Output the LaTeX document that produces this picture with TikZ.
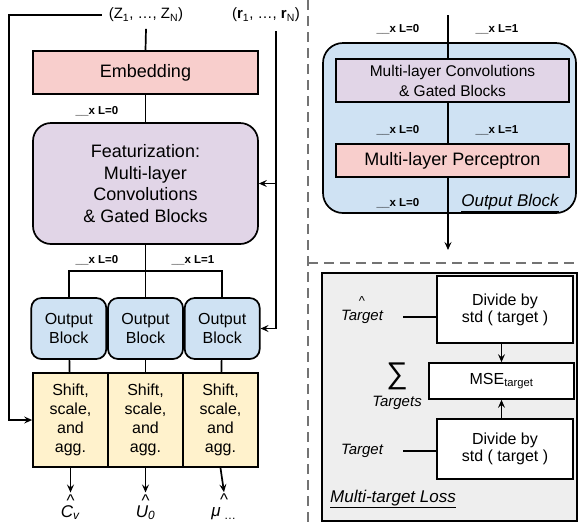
\documentclass[tikz,border=0pt]{standalone}
\usepackage{fontspec}
\setmainfont{Liberation Sans}
\usetikzlibrary{positioning, arrows.meta}
\definecolor{embpink}{RGB}{248,206,204}
\definecolor{featpurple}{RGB}{225,213,231}
\definecolor{outblue}{RGB}{207,226,243}
\definecolor{shiftyellow}{RGB}{255,242,204}
\definecolor{lossgray}{RGB}{238,238,238}
\definecolor{sepgray}{RGB}{115,115,115}
\tikzset{
>={Stealth[length=8pt, width=7pt, inset=3pt]}, % thin open heads as in the figure
box/.style={draw, align=center, inner sep=2pt}, % every framed block
embed/.style={box, fill=embpink},
feat/.style={box, fill=featpurple, rounded corners=18pt},
outb/.style={box, fill=outblue, rounded corners=10pt, minimum width=75pt, minimum height=61pt, font=\fontsize{16}{18.5}\selectfont},
agg/.style={box, fill=shiftyellow, minimum width=75pt, minimum height=94pt, font=\fontsize{16}{19}\selectfont},
lossbox/.style={box, fill=white, font=\fontsize{16}{17}\selectfont},
xlabel/.style={font=\bfseries\fontsize{11.5}{13}\selectfont},
io/.style={font=\fontsize{15}{17}\selectfont, inner sep=6pt},
outsym/.style={align=center, inner sep=1pt, font=\fontsize{17}{19}\selectfont},
tlabel/.style={font=\itshape\fontsize{15}{17}\selectfont},
sep/.style={sepgray, line width=2.5pt, dash pattern=on 10pt off 6pt},
}

\begin{document}
\begin{tikzpicture}[x=1pt, y=-1pt, line width=1.7pt]
      \useasboundingbox (0,0) rectangle (578,523);

      % left: whole model
      \node[io] (zin) at (146,15) {(Z\textsubscript{1}, …, Z\textsubscript{N})};
      \node[io] (rin) at (266,15) {(\textbf{r}\textsubscript{1}, …, \textbf{r}\textsubscript{N})};
      \coordinate (rtop) at (276,31);
      \coordinate (loop) at (9,15);
      \coordinate (split) at (145.5,271);

      \node[embed, minimum width=225pt, minimum height=43pt, font=\fontsize{18}{20}\selectfont] (emb) at (145.5,72.5) {Embedding};
      \node[feat, minimum width=225pt, minimum height=121pt, font=\fontsize{18}{21.5}\selectfont] (feat) at (145.5,183.5) {Featurization:\\Multi-layer\\Convolutions\\\& Gated Blocks};

      \node[outb] (out2) at (145.5,328.5) {Output\\Block};
      \node[outb, left=0pt of out2] (out1) {Output\\Block};
      \node[outb, right=0pt of out2] (out3) {Output\\Block};

      \node[agg] (agg2) at (145.5,420) {Shift,\\scale,\\and\\agg.};
      \node[agg, left=-1.7pt of agg2] (agg1) {Shift,\\scale,\\and\\agg.};
      \node[agg, right=-1.7pt of agg2] (agg3) {Shift,\\scale,\\and\\agg.};

      \node[outsym] (cv) at (70.5,507) {\^{}\\[-8pt]\textit{C}\textsubscript{\textit{v}}};
      \node[outsym] (uzero) at (145.5,507) {\^{}\\[-8pt]\textit{U}\textsubscript{\textit{0}}};
      \node[outsym] (mu) at (224,507) {\^{}\\[-8pt]\textit{μ}\textsubscript{ …}};

      \node[xlabel] (lxa) at (97,111) {\_\_x L=0};
      \node[xlabel] (lxb) at (97,260) {\_\_x L=0};
      \node[xlabel] (lxc) at (193,260) {\_\_x L=1};

      \draw (zin.south) -- (emb.north);
      \draw (emb) -- (feat);
      \draw[->] (zin.west) -- (loop) |- (agg1.west);
      \draw[->] (rtop) |- (feat.east);
      \draw[->] (rtop) |- (out3.east);
      \draw (feat) -- (out2);
      \draw (out1.north) |- (split) -| (out3.north);
      \foreach \i in {1,2,3}
        \draw (out\i) -- (agg\i);
      \foreach \i/\o in {1/cv, 2/uzero, 3/mu}
        \draw[->] (agg\i.south) -- (\o.north);

      % separators
      \draw[sep] (308,0) -- (308,523);
      \draw[sep] (308,263) -- (578,263);

      % top right: inside an output block
      \node[box, fill=outblue, rounded corners=20pt, minimum width=253pt, minimum height=170pt] (obox) at (449.5,128) {};
      \node[box, fill=featpurple, minimum width=233pt, minimum height=43pt, font=\fontsize{15.5}{20}\selectfont] (conv) at (452.5,80.5) {Multi-layer Convolutions\\\& Gated Blocks};
      \node[embed, minimum width=233pt, minimum height=33pt, font=\fontsize{18}{20}\selectfont] (mlp) at (452.5,160.5) {Multi-layer Perceptron};
      \coordinate (otop) at (448,15);
      \coordinate (obot) at (448,250);
      \draw (otop) -- (otop |- conv.north);
      \draw (otop |- conv.south) -- (otop |- mlp.north);
      \draw[->] (otop |- mlp.south) -- (obot);

      \node[xlabel] (oxa) at (398,29) {\_\_x L=0};
      \node[xlabel] (oxb) at (497,29) {\_\_x L=1};
      \node[xlabel] (oxc) at (398,130) {\_\_x L=0};
      \node[xlabel] (oxd) at (497,130) {\_\_x L=1};
      \node[xlabel] (oxe) at (398,203) {\_\_x L=0};
      \node[font=\itshape\fontsize{17}{19}\selectfont] (otitle) at (510,203) {\underline{Output Block}};

      % bottom right: the loss
      \node[box, fill=lossgray, minimum width=255pt, minimum height=248pt] (lossbg) at (449.5,397) {};
      \node[lossbox, minimum width=136pt, minimum height=67pt] (div1) at (505,309.5) {Divide by\\std ( target )};
      \node[lossbox, minimum width=145pt, minimum height=36pt] (mse) at (501.5,381) {MSE\textsubscript{target}};
      \node[lossbox, minimum width=136pt, minimum height=60pt] (div2) at (505,449) {Divide by\\std ( target )};

      \node[tlabel, label={[inner sep=0pt, font=\fontsize{13}{13}\selectfont]above:\^{}}] (that) at (362,317) {Target};
      \node[tlabel] (tgt) at (362,451) {Target};
      \node[font=\fontsize{30}{30}\selectfont] (sum) at (397,376) {∑};
      \node[tlabel] (targets) at (397,403) {Targets};
      \node[font=\itshape\fontsize{17}{19}\selectfont, anchor=west] (ltitle) at (326,499) {\underline{Multi-target Loss}};

      \draw ([xshift=16pt]that.east) -- (that.east -| div1.west);
      \draw ([xshift=16pt]tgt.east) -- (tgt.east -| div2.west);
      \draw[->] (div1.south -| mse.north) -- (mse.north);
      \draw[->] (div2.north -| mse.south) -- (mse.south);
    \end{tikzpicture}
\end{document}
